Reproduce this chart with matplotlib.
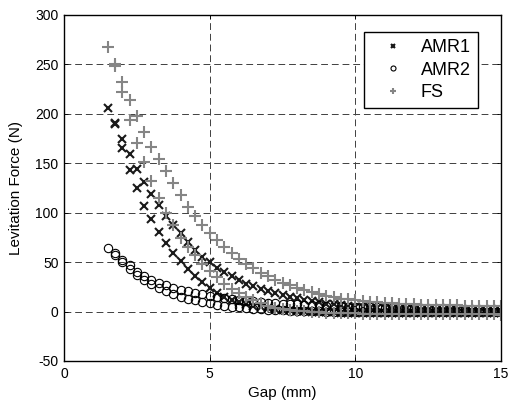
import matplotlib
matplotlib.use('Agg')
import matplotlib.pyplot as plt

plt.rcParams['font.family'] = ['Liberation Sans', 'DejaVu Sans']
plt.rcParams['axes.unicode_minus'] = False

# DATA  (gap in mm, force in N; two branches per sample)
gap_up = [1.5, 1.75, 2.0, 2.25, 2.5, 2.75, 3.0, 3.25, 3.5, 3.75,
	4.0, 4.25, 4.5, 4.75, 5.0, 5.25, 5.5, 5.75, 6.0, 6.25,
	6.5, 6.75, 7.0, 7.25, 7.5, 7.75, 8.0, 8.25, 8.5, 8.75,
	9.0, 9.25, 9.5, 9.75, 10.0, 10.25, 10.5, 10.75, 11.0, 11.25,
	11.5, 11.75, 12.0, 12.25, 12.5, 12.75, 13.0, 13.25, 13.5, 13.75,
	14.0, 14.25, 14.5, 14.75, 15.0]
gap_down = gap_up[1:]

amr1_up = [206, 191, 175, 159, 144, 131.5, 119, 107.5, 97, 87.5,
	79, 70.5, 62, 55, 50, 44.5, 40, 35.5, 31.5, 28,
	25.5, 23, 20.5, 18.5, 17, 15.2, 13.5, 12, 10.5, 9.2,
	8, 7.2, 6.4, 5.7, 5.1, 4.6, 4.1, 3.7, 3.3, 3.0,
	2.7, 2.4, 2.2, 2.0, 1.8, 1.6, 1.4, 1.3, 1.2, 1.1,
	1.0, 0.9, 0.8, 0.7, 0.6]
amr1_down = [190, 165.5, 143.5, 125, 107, 94, 80, 69, 59,
	51, 43, 36, 29.5, 24, 19, 15, 12, 9.5, 7.5,
	5.5, 4.2, 3.2, 2.4, 1.7, 1.1, 0.6, 0.2, -0.1, -0.4,
	-0.6, -0.8, -1.0, -1.1, -1.2, -1.3, -1.4, -1.4, -1.5, -1.5,
	-1.6, -1.6, -1.6, -1.7, -1.7, -1.7, -1.7, -1.8, -1.8, -1.8,
	-1.8, -1.8, -1.8, -1.8, -1.8]

amr2_up = [64.5, 59, 52, 47, 40.5, 35.5, 31.5, 29, 26.5, 24,
	22, 20.5, 19, 17.5, 16, 14.8, 13.6, 12.6, 11.7, 10.9,
	10.2, 9.6, 9.0, 8.5, 8.0, 7.6, 7.2, 6.8, 6.5, 6.2,
	5.9, 5.6, 5.3, 5.1, 4.9, 4.7, 4.5, 4.3, 4.1, 3.9,
	3.8, 3.6, 3.5, 3.4, 3.3, 3.2, 3.1, 3.0, 2.9, 2.8,
	2.7, 2.6, 2.5, 2.5, 2.4]
amr2_down = [57, 50, 43.5, 36.5, 31.5, 27.5, 24, 21, 17.5,
	15, 13, 11.2, 9.6, 8.2, 7.0, 6.0, 5.1, 4.3, 3.6,
	3.0, 2.5, 2.0, 1.6, 1.3, 1.0, 0.7, 0.5, 0.3, 0.1,
	0.0, -0.1, -0.2, -0.3, -0.3, -0.4, -0.4, -0.5, -0.5, -0.6,
	-0.6, -0.6, -0.7, -0.7, -0.7, -0.7, -0.8, -0.8, -0.8, -0.8,
	-0.8, -0.8, -0.8, -0.8, -0.8]

fs_up = [268, 250, 232, 214, 198, 182, 166.5, 154, 142, 130,
	118, 106, 96.5, 87.5, 79, 72, 65.5, 59, 53.5, 48.5,
	44, 39.5, 35.5, 32, 29, 26.5, 24, 21.5, 19.5, 17.5,
	16, 14.5, 13.2, 12.2, 11.3, 10.5, 9.9, 9.3, 8.8, 8.4,
	8.0, 7.7, 7.4, 7.1, 6.9, 6.7, 6.5, 6.3, 6.2, 6.1,
	6.0, 5.9, 5.8, 5.7, 5.6]
fs_down = [248, 222, 194, 171, 151, 132, 115, 100, 87.5,
	74, 65, 57, 48.5, 41.5, 35, 28, 23, 19, 15,
	11.5, 8.5, 6, 4, 2.6, 1.6, 0.8, 0.2, -0.3, -0.7,
	-1.0, -1.3, -1.5, -1.7, -1.9, -2.0, -2.1, -2.2, -2.3, -2.4,
	-2.4, -2.5, -2.5, -2.6, -2.6, -2.7, -2.7, -2.7, -2.8, -2.8,
	-2.8, -2.9, -2.9, -2.9, -3.0]


fig = plt.figure(figsize=(5.1, 4.01), dpi=100)
ax = fig.add_axes([0.1255, 0.0998, 0.857, 0.8628])

# grid behind the markers
ax.set_axisbelow(True)
ax.grid(True, color='0.25', linestyle=(0, (7, 4)), linewidth=0.7)

mk = dict(linestyle='none', markersize=6)
ax.plot(gap_up, amr1_up, 'x', color='0.1', mew=1.5, label='AMR1', **mk)
ax.plot(gap_down, amr1_down, 'x', color='0.1', mew=1.5, **mk)
ax.plot(gap_up, amr2_up, 'o', mfc='none', mec='black', mew=0.8, label='AMR2', **mk)
ax.plot(gap_down, amr2_down, 'o', mfc='none', mec='black', mew=0.8, **mk)
ax.plot(gap_up, fs_up, '+', color='0.52', mew=1.5, label='FS', markersize=8, linestyle='none')
ax.plot(gap_down, fs_down, '+', color='0.52', mew=1.5, markersize=8, linestyle='none')

ax.set_xlim(0, 15)
ax.set_ylim(-50, 300)
ax.set_xticks([0, 5, 10, 15])
ax.set_yticks(range(-50, 301, 50))
ax.tick_params(direction='in', length=3, width=0.6, labelsize=10,
	top=True, right=True, pad=4)
for s in ax.spines.values():
	s.set_linewidth(1.0)

ax.set_xlabel('Gap (mm)', fontsize=11, labelpad=4)
ax.set_ylabel('Levitation Force (N)', fontsize=11, labelpad=9)

leg = ax.legend(loc='upper right', bbox_to_anchor=(0.9474, 0.9509),
	borderaxespad=0, fontsize=13, markerscale=0.6, fancybox=False,
	framealpha=1, edgecolor='black', handlelength=2.4, handletextpad=0.35,
	labelspacing=0.3, borderpad=0.4)
leg.get_frame().set_linewidth(1.0)

fig.savefig('out.png', dpi=100)
